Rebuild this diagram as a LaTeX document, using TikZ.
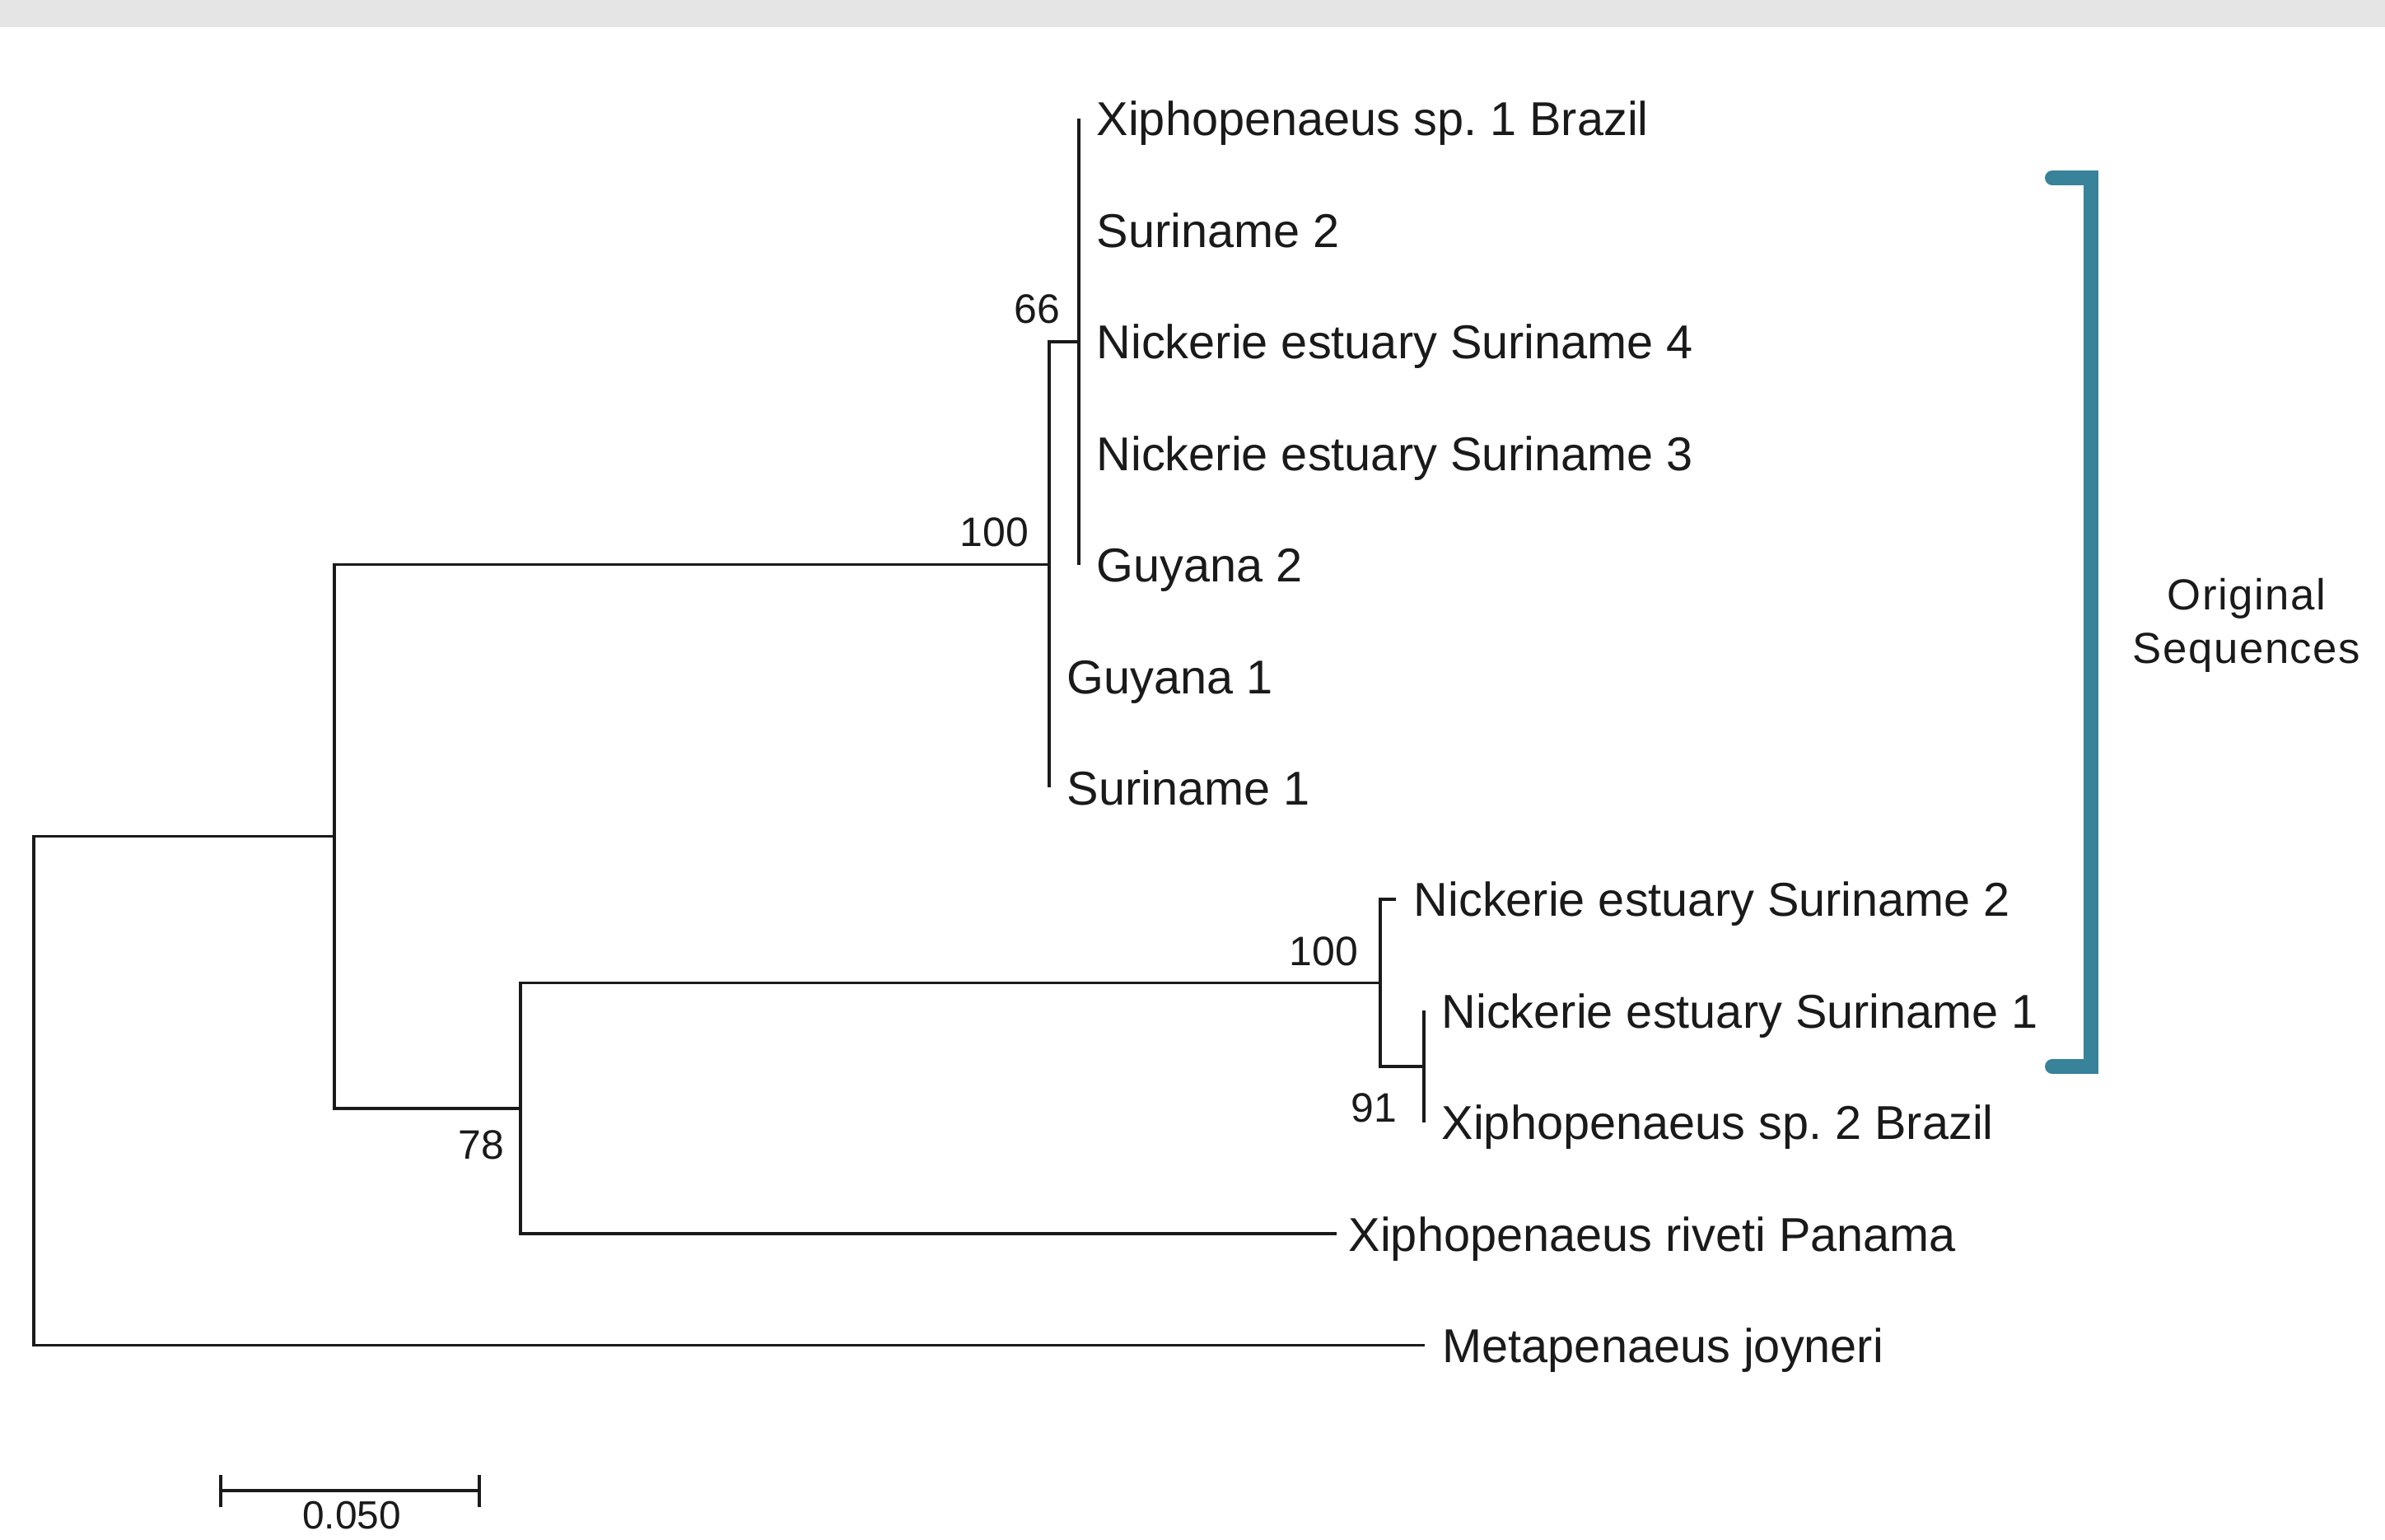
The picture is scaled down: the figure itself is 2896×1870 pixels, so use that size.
\documentclass[tikz,border=0pt]{standalone}
\usepackage{fontspec}
\setmainfont{Liberation Sans}
\newfontfamily\seqfont[LetterSpace=3]{Liberation Sans}
\definecolor{brk}{RGB}{56,130,154}
\definecolor{band}{RGB}{229,229,229}
\definecolor{ink}{RGB}{26,26,26}
\frenchspacing
\begin{document}
\frenchspacing
\begin{tikzpicture}[x=0.01cm,y=-0.01cm,
  branch/.style={line width=1.05pt, line join=miter, draw=ink},
  leaf/.style={anchor=base west, inner sep=0pt, font=\fontsize{16.4}{20}\selectfont, text=ink},
  boot/.style={anchor=base east, inner sep=0pt, font=\fontsize{14.2}{17}\selectfont, text=ink},
  seq/.style={anchor=base, inner sep=0pt, font=\seqfont\fontsize{15}{18}\selectfont, text=ink},
  bracket/.style={draw=brk, line width=5.1pt, line cap=round, line join=miter}
]
\useasboundingbox (0,0) rectangle (2896,1870);
\clip (0,0) rectangle (2896,1870);
\fill[band] (0,0) rectangle (2896,33);

% internal nodes
\coordinate (R) at (41,1324.5);
\coordinate (A) at (406,1015.6);
\coordinate (B) at (1274,685.6);
\coordinate (C) at (1310,414.8);
\coordinate (D) at (632,1345.7);
\coordinate (E) at (1676,1193.4);
\coordinate (F) at (1729,1294.9);
% leaf tips
\coordinate (l1) at (1310,144);
\coordinate (l2) at (1310,279.4);
\coordinate (l3) at (1310,414.8);
\coordinate (l4) at (1310,550.2);
\coordinate (l5) at (1310,685.6);
\coordinate (l6) at (1274,821);
\coordinate (l7) at (1274,956.4);
\coordinate (l8) at (1695,1091.8);
\coordinate (l9) at (1729,1227.2);
\coordinate (l10) at (1729,1362.6);
\coordinate (l11) at (1623,1498);
\coordinate (l12) at (1730,1633.4);

% branches
\draw[branch] (l1) -- (l5);
\draw[branch] (C) -| (B) |- (l7);
\draw[branch] (B) -| (A) |- (D);
\draw[branch] (E) -| (D) |- (l11);
\draw[branch] (l8) -| (E) |- (F);
\draw[branch] (l9) -- (l10);
\draw[branch] (A) -| (R) |- (l12);

% leaf labels
\node[leaf] (t1) at (1331,165) {Xiphopenaeus sp. 1 Brazil};
\node[leaf] (t2) at (1331,300.4) {Suriname 2};
\node[leaf] (t3) at (1331,435.8) {Nickerie estuary Suriname 4};
\node[leaf] (t4) at (1331,571.2) {Nickerie estuary Suriname 3};
\node[leaf] (t5) at (1331,706.6) {Guyana 2};
\node[leaf] (t6) at (1295,842) {Guyana 1};
\node[leaf] (t7) at (1295,977.4) {Suriname 1};
\node[leaf] (t8) at (1716,1112.8) {Nickerie estuary Suriname 2};
\node[leaf] (t9) at (1750,1248.2) {Nickerie estuary Suriname 1};
\node[leaf] (t10) at (1750,1383.6) {Xiphopenaeus sp. 2 Brazil};
\node[leaf] (t11) at (1637,1519) {Xiphopenaeus riveti Panama};
\node[leaf] (t12) at (1751,1654.4) {Metapenaeus joyneri};

% bootstrap values
\node[boot] (b66) at (1288,393) {66};
\node[boot] (bB) at (1250,663) {100};
\node[boot] (bE) at (1650,1172) {100};
\node[boot] (b91) at (1697,1362) {91};
\node[boot] (b78) at (613,1407) {78};

% bracket
\coordinate (k1) at (2492,216);
\coordinate (k2) at (2539,216);
\coordinate (k3) at (2539,1295);
\coordinate (k4) at (2492,1295);
\draw[bracket] (k1) -- (k2) -- (k3) -- (k4);
\node[seq] (o1) at (2728,740) {Original};
\node[seq] (o2) at (2728,805) {Sequences};

% scale bar
\coordinate (s1) at (268,1810);
\coordinate (s2) at (582,1810);
\coordinate (s1a) at (268,1791);
\coordinate (s1b) at (268,1830);
\coordinate (s2a) at (582,1791);
\coordinate (s2b) at (582,1830);
\draw[branch] (s1) -- (s2);
\draw[branch] (s1a) -- (s1b);
\draw[branch] (s2a) -- (s2b);
\node[boot, anchor=base, font=\fontsize{13.6}{16}\selectfont] (sc) at (427,1856) {0.050};
\end{tikzpicture}
\end{document}
